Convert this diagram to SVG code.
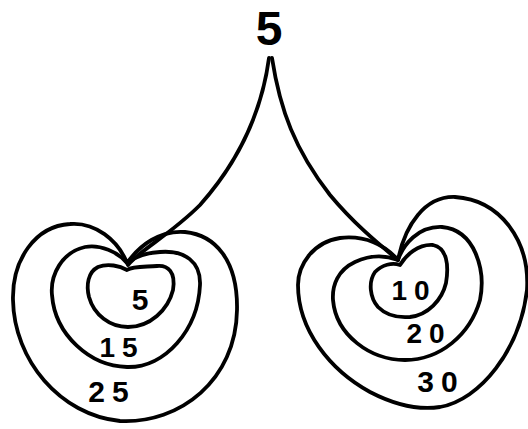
<svg xmlns="http://www.w3.org/2000/svg" width="528" height="429" viewBox="0 0 528 429">
<style>
.s{fill:none;stroke:#000;stroke-width:3.8;stroke-linecap:round;stroke-linejoin:round}
.t{font-family:"Liberation Sans",Arial,sans-serif;fill:#000;text-anchor:middle;font-weight:bold}
.l{letter-spacing:7px}
</style>
<rect width="528" height="429" fill="#fff"/>
<g id="root"><text class="t" x="269" y="45" font-size="48">5</text></g>
<g id="connectors">
<path class="s" d="M269,58 C262,110 240,160 200,205 C170,235 140,250 128,265"/>
<path class="s" d="M272,58 C280,110 295,150 330,195 C355,225 380,245 398,260"/>
</g>
<g id="left">
<path class="s" d="M127,263 C118,240 95,222 70,224 C35,226 12,260 13,300 C14,360 60,415 120,421 C180,424 236,380 237,310 C238,260 215,235 185,232 C160,230 140,245 127,263 Z"/>
<path class="s" d="M127,263 C118,252 100,244 85,247 C62,252 50,275 52,295 C55,335 90,366 127,367 C165,368 198,330 200,285 C201,262 185,250 160,252 C145,253 133,258 127,263 Z"/>
<path class="s" d="M127,270 C120,266 108,263 98,267 C88,272 86,285 89,297 C94,315 110,327 128,327 C150,327 168,310 173,290 C176,272 168,265 157,266 C145,267 133,266 127,270 Z"/>
<text class="t" x="140" y="310" font-size="30">5</text>
<text class="t l" x="122" y="357" font-size="28">15</text>
<text class="t l" x="112" y="402" font-size="30">25</text>
</g>
<g id="right">
<path class="s" d="M398,260 C385,245 365,235 340,238 C313,242 298,265 298,285 C298,330 330,370 370,392 C395,405 420,410 440,407 C480,400 520,350 527,290 C530,240 500,200 455,197 C425,196 405,225 398,260 Z"/>
<path class="s" d="M398,260 C385,255 370,255 355,262 C338,270 332,285 333,300 C336,335 370,360 405,360 C440,360 470,335 480,300 C486,270 475,230 442,227 C418,226 403,245 398,260 Z"/>
<path class="s" d="M400,265 C392,262 382,265 375,272 C368,282 370,298 378,307 C386,315 398,318 410,317 C428,315 442,300 446,283 C449,265 447,248 433,245 C418,244 406,255 400,265 Z"/>
<text class="t l" x="414" y="300" font-size="28">10</text>
<text class="t l" x="429" y="343" font-size="28">20</text>
<text class="t l" x="441" y="392" font-size="30">30</text>
</g>
</svg>
